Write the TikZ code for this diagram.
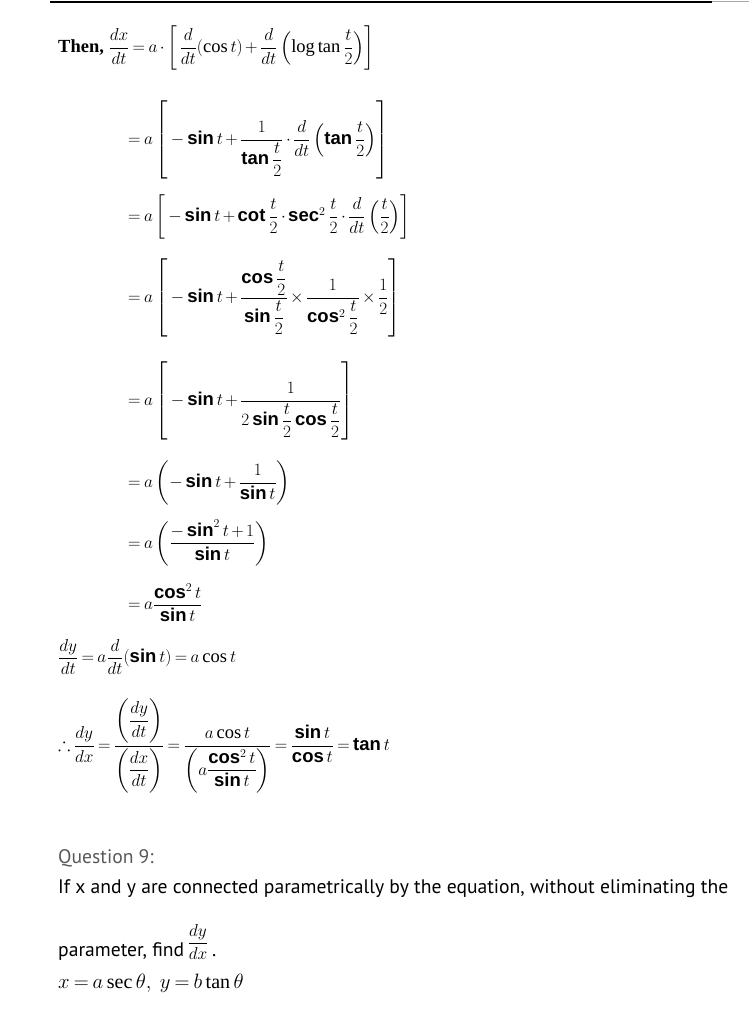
\documentclass[tikz,border=0pt]{standalone}
\usepackage{amsmath}
\usepackage{amssymb}
\usepackage{fontspec}
\setmainfont{Liberation Serif}
\setsansfont{Liberation Sans}
\newfontfamily\qfont{PT Sans}
\newcommand{\fn}[1]{\mathop{\textsf{\bfseries #1}}\nolimits}
\newcommand{\half}{\dfrac{t}{2}}
\thickmuskip=3.5mu plus 1mu
\medmuskip=2.5mu plus 1mu

\begin{document}
\begin{tikzpicture}[x=1pt,y=-1pt,
    mathline/.style={anchor=west,inner sep=0pt,font=\fontsize{18.5}{22}\selectfont},
    qtext/.style={anchor=base west,inner sep=0pt,font=\qfont\fontsize{19.6}{24}\selectfont}]
  \path[use as bounding box] (0,0) rectangle (749,1024);
  % Rule.
  \draw[line width=2.5pt] (50,2) -- (712,2);
  \draw[black!35,line width=1pt] (712,2) -- (749,2);
  % Derivative of x.
  \node[mathline] (l1) at (58,48)
    {\textbf{Then,} $\dfrac{dx}{dt}=a\cdot\left[\,\dfrac{d}{dt}(\cos t)+\dfrac{d}{dt}\left(\log\tan\dfrac{t}{2}\right)\right]$};
  \node[mathline] (l2) at (128,140)
    {$=a\left[\,-\fn{sin}t+\dfrac{1}{\fn{tan}\half}\cdot\dfrac{d}{dt}\left(\fn{tan}\half\right)\right]$};
  \node[mathline] (l3) at (128,217)
    {$=a\left[\,-\fn{sin}t+\fn{cot}\half\cdot\fn{sec}^2\half\cdot\dfrac{d}{dt}\left(\half\right)\right]$};
  \node[mathline] (l4) at (128,298)
    {$=a\left[\,-\fn{sin}t+\dfrac{\fn{cos}\half}{\fn{sin}\half}\times\dfrac{1}{\fn{cos}^2\half}\times\dfrac{1}{2}\right]$};
  \node[mathline] (l5) at (128,401)
    {$=a\left[\,-\fn{sin}t+\dfrac{1}{2\fn{sin}\half\fn{cos}\half}\right]$};
  \node[mathline] (l6) at (128,483)
    {$=a\left(-\fn{sin}t+\dfrac{1}{\fn{sin}t}\right)$};
  \node[mathline] (l7) at (128,543)
    {$=a\left(\dfrac{-\fn{sin}^2t+1}{\fn{sin}t}\right)$};
  \node[mathline] (l8) at (128,603)
    {$=a\dfrac{\fn{cos}^2t}{\fn{sin}t}$};
  % Derivative of y.
  \node[mathline] (l9) at (58,657)
    {$\dfrac{dy}{dt}=a\dfrac{d}{dt}(\fn{sin}t)=a\cos t$};
  \node[mathline] (l10) at (58,746)
    {$\therefore\dfrac{dy}{dx}=\dfrac{\left(\dfrac{dy}{dt}\right)}{\left(\dfrac{dx}{dt}\right)}
      =\dfrac{a\cos t}{\left(a\dfrac{\fn{cos}^2t}{\fn{sin}t}\right)}=\dfrac{\fn{sin}t}{\fn{cos}t}=\fn{tan}t$};
  % Question.
  \node[qtext,text=black!65] (q) at (58,863) {Question 9:};
  \node[qtext] (p1) at (58,893) {If x and y are connected parametrically by the equation, without eliminating the};
  \node[qtext] (find) at (58,956) {parameter, find};
  \node[anchor=south west,inner sep=0pt,font=\fontsize{18}{22}\selectfont] (dydx) at ([xshift=3pt,yshift=-4pt]find.base east) {$\dfrac{dy}{dx}$};
  \node[qtext] (dot) at (dydx.east |- find.base) {\,.};
  \node[anchor=base west,inner sep=0pt,font=\fontsize{20}{24}\selectfont] (eq) at (58,988) {$x=a\sec\theta,\ y=b\tan\theta$};
\end{tikzpicture}
\end{document}
